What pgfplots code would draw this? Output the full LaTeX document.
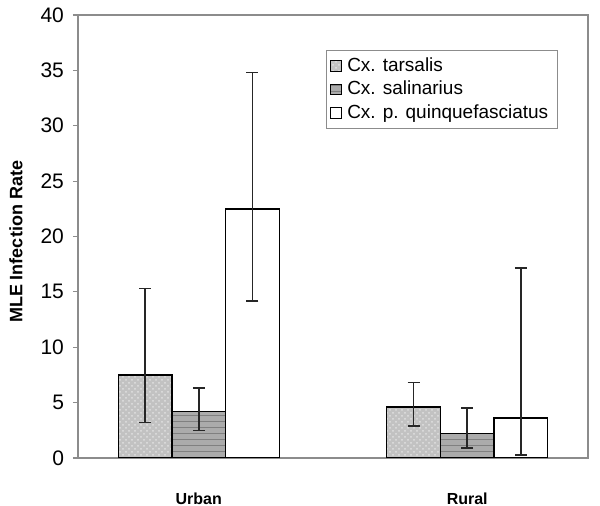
\documentclass[border=0pt]{standalone}
\usepackage{fontspec}
\setmainfont{Liberation Sans}
\usepackage{pgfplots}
\usepackage{pgfplotstable}
\pgfplotsset{compat=1.18}
\usetikzlibrary{patterns}

% x y err+ err-
\pgfplotstableread{
x y ep em
0 7.5 7.8 4.3
1 4.6 2.2 1.7
}\tarsalis
\pgfplotstableread{
x y ep em
0 4.2 2.1 1.7
1 2.2 2.3 1.3
}\salinarius
\pgfplotstableread{
x y ep em
0 22.5 12.3 8.3
1 3.6 13.55 3.33
}\quinq

\begin{document}
\begin{tikzpicture}
\useasboundingbox (0,0) rectangle (300pt,253pt);
\begin{axis}[
    at={(39pt,24pt)}, anchor=south west,
    scale only axis,
    width=255pt, height=221.5pt,
    xmin=-0.45, xmax=1.45,
    ymin=0, ymax=40,
    ytick={0,5,...,40},
    xtick={0,1},
    xticklabels={Urban,Rural},
    ybar, bar width=0.2,
    axis line style={black!45, line width=0.6pt},
    ytick style={black!45, line width=0.6pt},
    xtick style={draw=none},
    tick align=outside,
    ytick pos=left,
    major tick length=2.5pt,
    /pgf/number format/assume math mode=true,
    yticklabel style={font=\fontsize{10.5}{11}\selectfont, xshift=-1pt},
    xticklabel style={font=\bfseries\fontsize{8}{9}\selectfont, anchor=center, yshift=-18pt},
    ylabel={MLE Infection Rate},
    ylabel style={font=\bfseries\fontsize{9}{10}\selectfont, at={(axis description cs:-0.1216,0.4876)}, anchor=center},
    legend style={at={(axis description cs:0.486,0.921)}, anchor=north west,
        draw=black!45, font=\fontsize{9.5}{10}\selectfont, row sep=-0.5pt,
        inner sep=1.5pt, inner xsep=2pt, nodes={inner xsep=2.6pt}},
    legend cell align=left,
    legend image code/.code={\draw[#1, line width=0.5pt] (0pt,-2.7pt) rectangle (5.4pt,2.7pt);},
    error bars/error bar style={line width=0.8pt, black!85},
    error bars/error mark options={rotate=90, mark size=3pt, line width=0.8pt, black!85},
]
\addplot[bar shift=-0.2, draw=black, line width=0.75pt, fill=black!24,
    postaction={pattern=crosshatch dots, pattern color=black!12},
    error bars/.cd, y dir=both, y explicit]
    table[x=x, y=y, y error plus=ep, y error minus=em] {\tarsalis};
\addplot[bar shift=0, draw=black, line width=0.75pt, fill=black!33,
    postaction={pattern=horizontal lines, pattern color=black!50},
    error bars/.cd, y dir=both, y explicit]
    table[x=x, y=y, y error plus=ep, y error minus=em] {\salinarius};
\addplot[bar shift=0.2, draw=black, line width=0.75pt, fill=white,
    error bars/.cd, y dir=both, y explicit]
    table[x=x, y=y, y error plus=ep, y error minus=em] {\quinq};
\legend{Cx. tarsalis, Cx. salinarius, Cx. p. quinquefasciatus}
\end{axis}
\end{tikzpicture}
\end{document}
